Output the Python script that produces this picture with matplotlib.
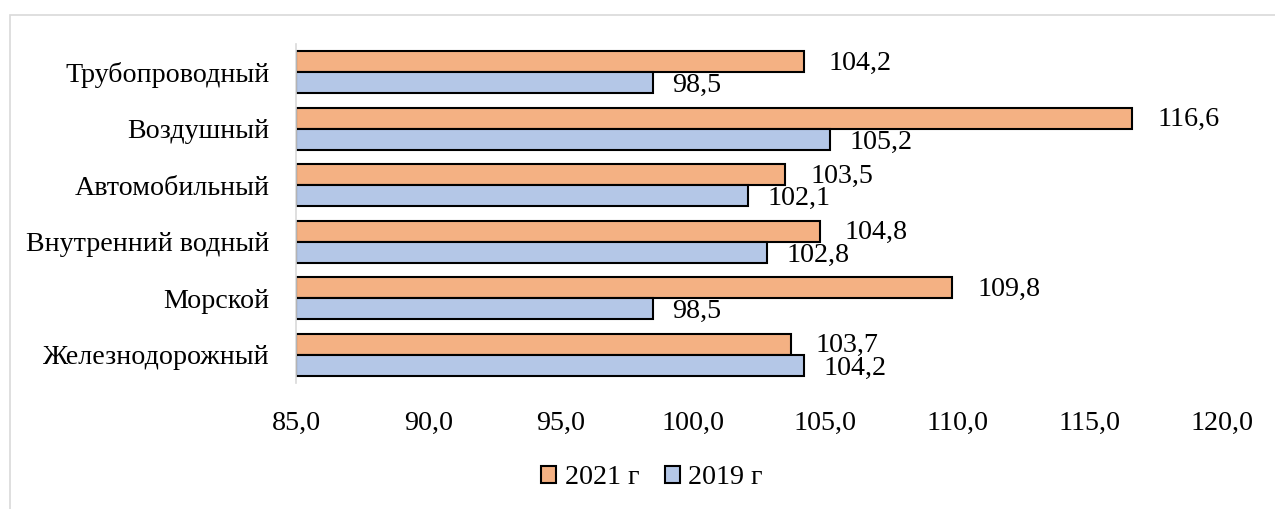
import matplotlib.pyplot as plt
from matplotlib.patches import Rectangle
import numpy as np

plt.rcParams['font.family'] = ['Liberation Serif', 'DejaVu Serif']

categories = ["Трубопроводный", "Воздушный", "Автомобильный",
              "Внутренний водный", "Морской", "Железнодорожный"]
values_2021 = [104.2, 116.6, 103.5, 104.8, 109.8, 103.7]
values_2019 = [98.5, 105.2, 102.1, 102.8, 98.5, 104.2]
series_names = ["2021 г", "2019 г"]
x_ticks = [85, 90, 95, 100, 105, 110, 115, 120]

color_2021 = "#F4B183"
color_2019 = "#B4C7E7"
fs = 20.2

fig = plt.figure(figsize=(12.75, 5.09), dpi=100)
ax = fig.add_axes([296 / 1275, 1 - 383 / 509, (1222 - 296) / 1275, (383 - 44) / 509])

# light frame around the chart area
fig.patches.append(Rectangle((10 / 1275, -0.1), 1.2, 1 - 15 / 509 + 0.1,
                             transform=fig.transFigure, fill=False,
                             edgecolor="#d9d9d9", linewidth=1.2, zorder=0))

y = np.arange(len(categories))
h = 0.375
base = 85
b1 = ax.barh(y - h / 2, np.array(values_2021) - base, left=base, height=h,
             color=color_2021, edgecolor="black", linewidth=1.5, label=series_names[0])
b2 = ax.barh(y + h / 2, np.array(values_2019) - base, left=base, height=h,
             color=color_2019, edgecolor="black", linewidth=1.5, label=series_names[1])

for yy, v in zip(y - h / 2, values_2021):
    ax.annotate(f"{v:.1f}".replace(".", ","), (v, yy), xytext=(18, -1),
                textcoords="offset points", ha="left", va="center", fontsize=fs)
for yy, v in zip(y + h / 2, values_2019):
    ax.annotate(f"{v:.1f}".replace(".", ","), (v, yy), xytext=(14, -2),
                textcoords="offset points", ha="left", va="center", fontsize=fs)

ax.set_xlim(85, 120)
ax.set_ylim(len(categories) - 0.5, -0.5)
ax.set_xticks(x_ticks)
ax.set_xticklabels([f"{t:.1f}".replace(".", ",") for t in x_ticks], fontsize=fs)
ax.set_yticks(y)
ax.set_yticklabels(categories, fontsize=fs)
ax.tick_params(axis="both", length=0)
ax.tick_params(axis="x", pad=20)
ax.tick_params(axis="y", pad=19)

for s in ["top", "right", "bottom"]:
    ax.spines[s].set_visible(False)
ax.spines["left"].set_color("#d9d9d9")
ax.spines["left"].set_linewidth(1.2)

fig.legend(handles=[b1, b2], loc="center", bbox_to_anchor=(652 / 1275, 1 - 478 / 509),
           ncol=2, frameon=False, fontsize=fs, handlelength=0.55, handleheight=0.55,
           handletextpad=0.3, columnspacing=0.9)

fig.savefig("out.png", dpi=100)
